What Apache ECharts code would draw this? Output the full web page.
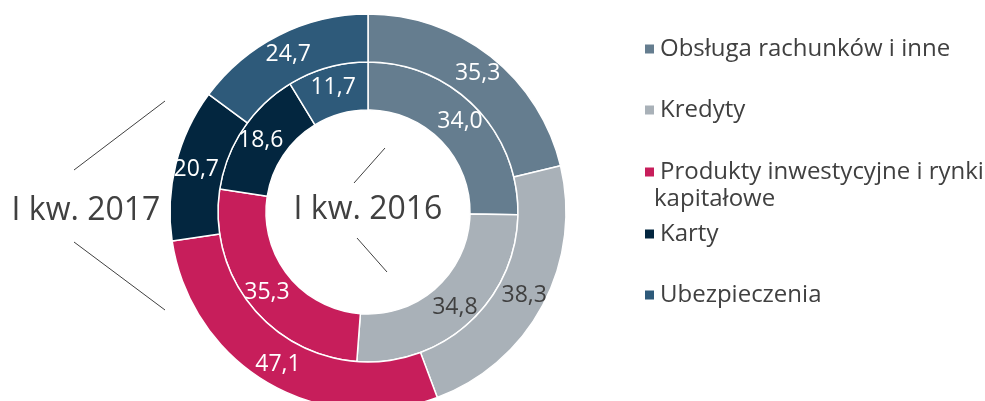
<!DOCTYPE html>
<html>
<head>
<meta charset="utf-8">
<script src="https://cdn.jsdelivr.net/npm/echarts@6/dist/echarts.min.js"></script>
<style>
    html, body {margin: 0; padding: 0; background: #fff;}
    #chart {width: 985px; height: 401px;}
</style>
</head>
<body>
<div id="chart"></div>
<script>
var categories = ['Obsługa rachunków i inne', 'Kredyty', 'Produkty inwestycyjne i rynki kapitałowe', 'Karty', 'Ubezpieczenia'];
var values2016 = [34.0, 34.8, 35.3, 18.6, 11.7];
var values2017 = [35.3, 38.3, 47.1, 20.7, 24.7];
var colors = ['#657d8f', '#a9b1b8', '#c71e5b', '#03263f', '#2e5a7a'];
var labelColors = ['#ffffff', '#404040', '#ffffff', '#ffffff', '#ffffff'];
var periods = ['I kw. 2016', 'I kw. 2017'];

var font = 'Open Sans';
var textColor = '#404040';

var toData = function (vals) {
    return vals.map(function (v, i) {
        return {
            name: categories[i],
            value: v,
            itemStyle: {color: colors[i]},
            label: {color: labelColors[i]}
        };
    });
};

var ring = function (name, radius, vals) {
    return {
        name: name,
        type: 'pie',
        center: [368, 212],
        radius: radius,
        startAngle: 90,
        clockwise: true,
        silent: true,
        itemStyle: {borderColor: '#fff', borderWidth: 1.5},
        label: {
            show: true,
            position: 'inside',
            fontFamily: font,
            fontSize: 23,
            formatter: function (p) {
                return p.value.toFixed(1).replace('.', ',');
            }
        },
        labelLine: {show: false},
        data: toData(vals)
    };
};

// legend rows placed one by one (like the original layout)
var rowCenters = [47, 108, 170, 232, 293];
var legends = categories.map(function (c, i) {
    return {
        left: 638,
        top: rowCenters[i] - 17,
        orient: 'vertical',
        itemWidth: 11,
        itemHeight: 11,
        icon: 'rect',
        selectedMode: false,
        data: [c],
        formatter: function (name) {
            return name === categories[2] ? 'Produkty inwestycyjne i rynki' : name;
        },
        textStyle: {fontFamily: font, fontSize: 24, color: textColor, lineHeight: 28}
    };
});

var myChart = echarts.init(document.getElementById('chart'));
var options = {
    animation: false,
    legend: legends,
    series: [
        ring(periods[0], [102, 150], values2016),
        ring(periods[1], [150, 198], values2017)
    ],
    graphic: [
        {type: 'text', x: 654, y: 199, style: {text: 'kapitałowe', font: '24px "Open Sans"', fill: textColor, textVerticalAlign: 'middle'}},
        {type: 'text', x: 368, y: 210, style: {text: periods[0], font: '32px "Open Sans"', fill: textColor, textAlign: 'center', textVerticalAlign: 'middle'}},
        {type: 'text', x: 86, y: 211, style: {text: periods[1], font: '32px "Open Sans"', fill: textColor, textAlign: 'center', textVerticalAlign: 'middle'}},
        {type: 'line', shape: {x1: 354, y1: 183, x2: 385, y2: 148}, style: {stroke: textColor, lineWidth: 1}},
        {type: 'line', shape: {x1: 357, y1: 238, x2: 387, y2: 272}, style: {stroke: textColor, lineWidth: 1}},
        {type: 'line', shape: {x1: 74, y1: 170, x2: 165, y2: 101}, style: {stroke: textColor, lineWidth: 1}},
        {type: 'line', shape: {x1: 74, y1: 242, x2: 165, y2: 310}, style: {stroke: textColor, lineWidth: 1}}
    ]
};
myChart.setOption(options);
</script>
</body>
</html>
